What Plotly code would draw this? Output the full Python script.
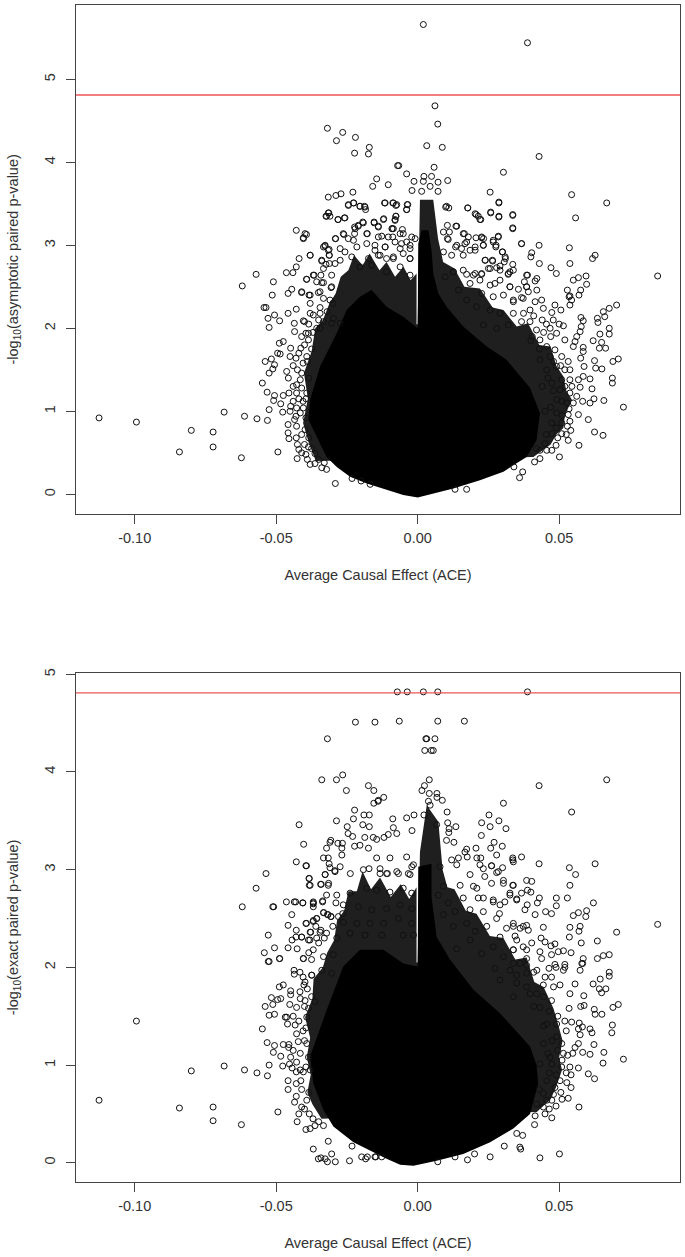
import plotly.graph_objects as go

THRESHOLD = 4.81
x_ticks = [-0.10, -0.05, 0.00, 0.05]
x_tick_labels = ["-0.10", "-0.05", "0.00", "0.05"]
top_y_ticks = [0, 1, 2, 3, 4, 5]
bottom_y_ticks = [0, 1, 2, 3, 4, 5]
y_tick_labels = ["0", "1", "2", "3", "4", "5"]
x_title = "Average Causal Effect (ACE)"
top_y_title = "-log<sub>10</sub>(asymptotic paired p-value)"
bottom_y_title = "-log<sub>10</sub>(exact paired p-value)"

# Outline of the solid black mass of overlapping points (ACE, -log10 p)
top_solid = [(0,-.04),(.0126,.07),(.022,.17),(.0303,.27),(.0338,.35),(.0385,.45),(.0420,.65),(.0432,.98),(.0397,1.28),(.0314,1.62),(.0244,1.78),(.0161,2.02),(.0102,2.26),(.0073,2.42),(.0055,2.66),(.0049,2.94),(.0038,3.18),(.0014,3.18),(.0002,3.02),(0,2.0),(-.0051,2.14),(-.0110,2.26),(-.0163,2.46),(-.0204,2.38),(-.0251,2.22),(-.0286,1.94),(-.0345,1.54),(-.0380,1.14),(-.0386,.90),(-.0357,.69),(-.0322,.45),(-.0286,.33),(-.0239,.21),(-.0180,.13),(-.0133,.08),(-.0110,.06),(-.0051,-.01)]
top_speckle = [(-.0360,.40),(-.0385,.62),(-.0405,.86),(-.0388,1.15),(-.0402,1.46),(-.0375,1.72),(-.0362,2.0),(-.0335,2.10),(-.0312,2.30),(-.0290,2.42),(-.0272,2.62),(-.0245,2.70),(-.0225,2.88),(-.0195,2.76),(-.0170,2.90),(-.0135,2.70),(-.0110,2.80),(-.0080,2.62),(-.0050,2.74),(-.0025,2.58),(-.0004,2.66),(-.0004,2.05),(0,2.05),(.0008,3.55),(.0055,3.55),(.0072,3.08),(.0090,2.80),(.0130,2.72),(.0165,2.50),(.022,2.48),(.0265,2.25),(.0303,2.22),(.0350,2.02),(.0390,2.06),(.0430,1.80),(.0470,1.78),(.0490,1.55),(.0515,1.42),(.0525,1.25),(.0545,1.14),(.0520,.95),(.0515,.80),(.0490,.72),(.0470,.60),(.0409,.45)]
bottom_solid = [(-.0015,-.03),(.0067,.02),(.0161,.09),(.0256,.21),(.0338,.35),(.0397,.50),(.0426,.81),(.0420,1.0),(.0397,1.19),(.0291,1.53),(.0197,1.77),(.0114,2.08),(.0067,2.31),(.0049,2.72),(.0049,3.06),(.0002,3.03),(0,2.01),(-.0051,2.04),(-.0121,2.18),(-.0204,2.18),(-.0263,2.01),(-.0322,1.56),(-.0380,1.09),(-.0369,.81),(-.0333,.54),(-.0298,.37),(-.0227,.21),(-.0145,.09),(-.0110,.04),(-.0062,-.02)]
bottom_speckle = [(-.0340,.45),(-.0372,.60),(-.0390,.72),(-.0378,.90),(-.0392,1.08),(-.0380,1.28),(-.0398,1.49),(-.0372,1.68),(-.0368,1.88),(-.0335,2.0),(-.0320,2.15),(-.0295,2.28),(-.0285,2.48),(-.0260,2.58),(-.0245,2.78),(-.0215,2.78),(-.0195,2.98),(-.0165,2.80),(-.0133,2.92),(-.0095,2.72),(-.0060,2.85),(-.0030,2.70),(-.0004,2.82),(-.0004,2.05),(0,2.05),(.0008,3.18),(.0032,3.66),(.0073,3.49),(.0088,3.0),(.0105,2.82),(.0130,2.80),(.0170,2.58),(.0208,2.55),(.0255,2.32),(.0303,2.30),(.0345,2.08),(.0385,2.10),(.0412,1.85),(.0445,1.80),(.0480,1.58),(.0498,1.40),(.0512,1.25),(.0500,1.08),(.0510,.95),(.0490,.78),(.0470,.65),(.0421,.52)]

# Individually legible points
top_points = [
(-.0319,4.41),(-.0265,4.36),(-.0287,4.26),(-.0220,4.30),(-.0171,4.18),(-.0174,4.10),(-.0223,4.11),(-.0145,3.80),(-.0159,3.71),(-.0229,3.64),(-.0271,3.62),(-.0289,3.60),(-.0316,3.58),(-.0226,3.51),(-.0245,3.48),(-.0204,3.47),(-.0188,3.47),(-.0184,3.43),(-.0314,3.39),(-.0324,3.35),(-.0310,3.35),(-.0282,3.31),(-.0259,3.33),(-.0194,3.28),(-.0154,3.28),(-.0139,3.22),(-.0210,3.24),(-.0223,3.22),(-.0429,3.18),(-.0393,3.13),(-.0404,3.09),(-.0291,3.08),(-.0261,3.13),(-.0223,3.14),(-.0178,3.14),(-.0328,2.99),(-.0333,2.98),(-.0313,2.95),(-.0313,2.88),(-.0380,2.88),(-.0419,2.84),(-.0339,2.81),(-.0429,2.74),(-.0441,2.67),(-.0464,2.67),(-.0324,2.77),(-.0292,2.78),(-.0571,2.65),(-.0510,2.56),(-.0620,2.51),(-.0514,2.40),(-.0458,2.42),(-.0445,2.47),(-.0410,2.43),(-.0393,2.59),(-.0366,2.64),(-.0342,2.64),(-.0357,2.56),(-.0333,2.55),(-.0306,2.49),(-.0384,2.40),(-.0351,2.43),
(.0020,5.66),(.0388,5.44),(.0061,4.68),(.0071,4.46),(.0032,4.20),(.0087,4.18),(.0429,4.07),(-.0067,3.96),(-.0071,3.96),(.0058,3.94),(.0303,3.88),(-.0039,3.86),(.0022,3.83),(.0049,3.83),(-.0013,3.77),(.0020,3.77),(.0072,3.76),(.0106,3.78),(-.0104,3.73),(-.0020,3.66),(.0072,3.65),(.0014,3.65),(.0044,3.71),(.0256,3.64),(.0544,3.61),(.0668,3.51),(.0287,3.52),(-.0117,3.51),(-.0088,3.51),(-.0077,3.48),(-.0035,3.49),(-.0039,3.43),(.0099,3.46),(.0110,3.45),(.0177,3.45),(.0207,3.37),(.0214,3.35),(.0223,3.31),(.0258,3.40),(.0287,3.34),(.0336,3.36),(.0558,3.33),(.0336,3.21),(-.0120,3.32),(-.0077,3.35),(-.0080,3.31),(-.0091,3.20),(-.0086,3.20),(-.0054,3.19),(.0105,3.24),(.0135,3.23),(.0112,3.16),(.0105,3.08),(.0165,3.14),(.0179,3.10),(.0206,3.09),(.0226,3.09),(.0233,3.08),(.0285,3.11),(.0267,3.06),(.0277,3.00),(.0367,3.02),(.0429,3.00),(.0536,2.97),(.0232,3.00),(.0203,2.98),(.0167,3.02),(.0155,2.96),(.0134,2.98),(.0185,2.94),(.0300,2.92),(.0403,2.91),(.0400,2.86),(.0310,2.84),(.0306,2.80),(.0336,2.77),(.0239,2.82),(.0265,2.81),(.0291,2.75),(.0279,2.73),(.0256,2.72),(.0627,2.88),(.0618,2.84),(.0538,2.78),(.0430,2.78),(.0471,2.73),(.0490,2.66),(.0326,2.68),(.0320,2.65),(.0595,2.63),(.0568,2.61),(.0550,2.58),(.0597,2.53),(.0848,2.63),(.0388,2.64),(.0421,2.60),(.0415,2.57),(.0377,2.56),(.0385,2.50),(.0226,2.66),(.0197,2.64),(.0173,2.65),(.0126,2.68),(.0421,2.46),(.0391,2.44),(.0367,2.37),(.0326,2.50),(.0273,2.54),(.0529,2.46),(.0576,2.46),(.0535,2.38),(.0570,2.40),
(-.0127,3.11),(-.0088,3.10),(-.0051,3.14),(-.0021,3.10),(-.0151,3.00),(-.0115,2.98),(-.0057,3.02),(-.0027,3.00),(-.0139,2.88),(-.0086,2.86),(-.0051,2.90),(-.0027,2.84),(-.0110,2.84),
(.0703,2.28),(.0677,2.24),(.0656,2.20),(.0661,2.14),(.0635,2.12),(.0637,2.07),(.0577,2.13),(.0585,2.09),(.0578,2.02),(.0574,1.96),(.0562,1.90),(.0677,2.00),(.0677,1.93),(.0644,1.93),(.0620,1.85),(.0650,1.83),(.0642,1.76),(.0664,1.76),(.0556,1.84),(.0550,1.78),(.0585,1.77),(.0585,1.72),(.0576,1.64),(.0588,1.54),(.0709,1.63),(.0690,1.60),(.0625,1.61),(.0629,1.52),(.0651,1.51),(.0609,1.39),(.0688,1.40),(.0688,1.34),(.0616,1.27),(.0623,1.15),(.0609,1.10),(.0658,1.13),(.0583,1.12),(.0727,1.05),(.0568,.96),(.0603,.90),(.0625,.75),(.0655,.71),(.0570,.59),(.0501,.45),(.0360,.20),(.0371,.27),(.0340,.33),(.0173,.06),(.0132,.06),(.0532,.65),(.0541,.77),(.0529,.82),(.0538,.88),(.0489,.59),(.0474,.53),(.0432,.43),(.0413,.39),(.0509,.73),(.0574,1.29),(.0568,1.38),(.0585,1.42),(.0538,1.50),(.0532,1.60),(.0520,1.86),(.0515,2.03),(.0479,2.10),(.0468,2.00),(.0491,1.94),(.0420,1.98),(.0506,2.22),(.0474,2.19),(.0485,2.28),(.0444,2.24),(.0415,2.32),(.0438,2.34),(.0397,2.08),(.0374,2.18),(.0338,2.32),(.0544,2.34),(.0538,2.28),(.0538,2.39),
(-.1126,.92),(-.0994,.87),(-.0800,.77),(-.0723,.75),(-.0723,.57),(-.0842,.51),(-.0684,.99),(-.0612,.94),(-.0568,.91),(-.0531,.89),(-.0623,.44),(-.0494,.51),(-.0426,.43),(-.0291,.13),(-.0525,1.02),(-.0484,1.09),(-.0477,.99),(-.0509,1.13),(-.0506,1.19),(-.0532,1.23),(-.0549,1.34),(-.0475,1.19),(-.0455,1.22),(-.0525,1.46),(-.0512,1.51),(-.0506,1.56),(-.0517,1.63),(-.0539,1.60),(-.0495,1.70),(-.0486,1.69),(-.0449,1.76),(-.0489,1.82),(-.0475,1.84),(-.0525,2.01),(-.0488,2.09),(-.0529,2.12),(-.0506,2.16),(-.0458,2.18),(-.0429,2.23),(-.0543,2.25),(-.0536,2.25),
(-.0436,2.06),(-.0435,1.96),(-.0404,2.09),(-.0451,1.66),(-.0430,1.64),(-.0463,1.48),(-.0457,1.40),(-.0428,1.32),(-.0428,1.22),(-.0449,1.06),(-.0451,1.00),(-.0428,1.04),(-.0430,.94),(-.0458,.84),(-.0458,.74),(-.0455,.67),(-.0429,.68),(-.0428,.82),(-.0420,.54),(-.0395,.48),(-.0380,.36),(-.0363,.37),(-.0339,.32),(-.0322,.30),(-.0232,.19),(-.0200,.16),(-.0168,.12),(-.0395,1.94),(-.0386,1.86),(-.0413,1.76),(-.0392,1.66),(-.0410,1.46),(-.0392,1.22),(-.0404,1.04),(-.0398,.78),(-.0386,.57),(-.0363,.49),(-.0380,2.18),(-.0345,2.18),(-.0333,2.08),(-.0304,2.06),(-.0357,2.00),
# dense band, left of the central spike
(-.0245,3.49),(-.0227,3.51),(-.0204,3.47),(-.0186,3.46),(-.0115,3.51),(-.0086,3.51),(-.0074,3.49),(-.0037,3.49),(-.0039,3.43),(-.0316,3.39),(-.0322,3.35),(-.0281,3.31),(-.0257,3.33),(-.0154,3.27),(-.0139,3.23),(-.0121,3.31),(-.0077,3.35),(-.0080,3.30),(-.0192,3.27),(-.0210,3.23),(-.0221,3.20),(-.0090,3.20),(-.0263,3.14),(-.0398,3.14),(-.0404,3.08),(-.0290,3.08),(-.0245,3.08),(-.0227,3.06),(-.0180,3.14),(-.0139,3.10),(-.0104,3.10),(-.0062,3.14),(-.0009,3.08),(-.0039,3.04),(-.0080,3.04),(-.0327,3.00),(-.0316,2.94),(-.0274,2.96),(-.0380,2.88),(-.0312,2.88),(-.0257,2.92),(-.0215,2.98),(-.0180,3.02),(-.0151,2.94),(-.0115,2.98),(-.0062,2.96),(-.0027,2.96),(-.0339,2.82),(-.0312,2.78),(-.0274,2.82),(-.0233,2.86),(-.0174,2.84),(-.0133,2.88),(-.0086,2.84),(-.0027,2.84),(-.0333,2.72),(-.0369,2.64),(-.0339,2.55),(-.0392,2.59),(-.0304,2.64),(-.0410,2.44),(-.0345,2.44),(-.0380,2.40),(-.0304,2.50),(-.0333,2.36),(-.0345,2.25),(-.0380,2.30),(-.0310,2.34),(-.0400,2.08),(-.0369,2.16),(-.0298,2.12),(-.0386,1.94),(-.0345,2.00),(-.0274,2.06),(-.0204,2.74),(-.0163,2.76),(-.0110,2.68),(-.0062,2.74),(-.0027,2.64),
# dense band, right of the central spike
(.0102,3.47),(.0177,3.45),(.0203,3.38),(.0220,3.31),(.0258,3.39),(.0287,3.51),(.0287,3.35),(.0336,3.37),(.0336,3.20),(.0367,3.02),(.0226,3.10),(.0161,3.14),(.0138,3.23),(.0108,3.07),(.0091,3.16),(.0285,3.10),(.0267,3.04),(.0276,2.98),(.0299,2.92),(.0232,3.00),(.0173,3.04),(.0138,3.00),(.0091,2.92),(.0120,2.88),(.0161,2.88),(.0203,2.94),(.0238,2.82),(.0264,2.82),(.0309,2.86),(.0338,2.70),(.0385,2.64),(.0250,2.72),(.0291,2.70),(.0320,2.66),(.0226,2.65),(.0203,2.66),(.0161,2.70),(.0126,2.68),(.0097,2.62),(.0185,2.54),(.0220,2.58),(.0256,2.52),(.0291,2.58),(.0326,2.50),(.0356,2.47),(.0385,2.50),(.0373,2.36),(.0397,2.22),(.0338,2.34),(.0303,2.40),(.0267,2.38),(.0226,2.42),(.0144,2.46),(.0173,2.34),(.0208,2.26),(.0256,2.22),(.0291,2.18),(.0338,2.18),(.0367,2.08),(.0320,2.04),(.0279,2.00),(.0232,2.04),
(.0432,1.86),(.0456,1.78),(.0485,1.74),(.0509,1.66),(.0468,1.66),(.0432,1.62),(.0491,1.54),(.0520,1.50),(.0456,1.50),(.0509,1.38),(.0538,1.38),(.0474,1.34),(.0503,1.26),(.0538,1.22),(.0562,1.18),(.0491,1.14),(.0527,1.10),(.0550,1.10),(.0491,.98),(.0532,.96),(.0474,.86),(.0509,.86),(.0474,.73),(.0450,.61),(.0456,.53),(.0432,.53),
# crowded flanks of the central mass
(-.0410,1.90),(-.0400,1.80),(-.0420,1.70),(-.0405,1.58),(-.0440,1.55),(-.0425,1.50),(-.0415,1.38),(-.0440,1.30),(-.0410,1.28),(-.0420,1.15),(-.0405,1.12),(-.0440,1.12),(-.0415,.98),(-.0395,.92),(-.0435,.90),(-.0410,.72),(-.0385,.68),(-.0425,.60),(-.0400,.60),(-.0375,.55),(-.0410,.50),(-.0350,.42),(-.0330,.38),(-.0390,.42),(-.0370,1.95),(-.0350,2.10),(-.0385,2.05),(-.0320,2.20),(-.0300,2.30),(-.0375,1.75),(-.0390,1.60),(-.0385,1.40),(-.0395,1.15),
(.0440,2.10),(.0455,2.05),(.0410,2.15),(.0445,1.95),(.0405,1.90),(.0470,1.90),(.0500,2.05),(.0430,1.75),(.0400,1.85),(.0480,1.60),(.0505,1.55),(.0460,1.40),(.0440,1.30),(.0520,1.30),(.0480,1.25),(.0545,1.30),(.0510,1.12),(.0470,1.05),(.0535,1.03),(.0450,1.00),(.0510,.95),(.0490,.80),(.0525,.72),(.0455,.72),(.0495,.68),(.0420,.55),
]
bottom_points = [
(-.0220,4.51),(-.0151,4.51),(-.0319,4.34),(-.0339,3.92),(-.0287,3.92),(-.0265,3.97),(-.0252,3.81),(-.0174,3.86),(-.0155,3.81),(-.0155,3.68),(-.0140,3.70),(-.0223,3.61),(-.0190,3.56),(-.0171,3.56),(-.0287,3.50),(-.0227,3.52),(-.0194,3.46),(-.0171,3.44),(-.0249,3.44),(-.0419,3.46),(-.0246,3.37),(-.0230,3.34),(-.0187,3.33),(-.0157,3.33),(-.0145,3.31),(-.0307,3.30),(-.0282,3.27),(-.0266,3.27),(-.0310,3.28),(-.0403,3.26),(-.0322,3.22),(-.0268,3.22),(-.0223,3.24),(-.0204,3.25),(-.0174,3.22),(-.0333,3.12),(-.0316,3.12),(-.0268,3.15),(-.0313,3.06),(-.0429,3.08),(-.0393,3.04),(-.0310,3.02),(-.0293,2.99),(-.0536,2.96),(-.0327,2.95),(-.0384,2.91),(-.0380,2.84),(-.0343,2.85),(-.0571,2.81),(-.0316,2.84),(-.0322,2.74),(-.0286,2.74),
(-.0620,2.62),(-.0512,2.62),(-.0509,2.62),(-.0464,2.67),(-.0436,2.67),(-.0431,2.67),(-.0406,2.66),(-.0369,2.67),(-.0369,2.65),(-.0369,2.62),(-.0336,2.68),(-.0445,2.54),(-.0332,2.56),(-.0317,2.54),(-.0306,2.52),(-.0357,2.50),(-.0369,2.47),(-.0393,2.45),(-.0458,2.43),(-.0429,2.38),(-.0528,2.33),(-.0410,2.31),(-.0430,2.31),(-.0444,2.28),(-.0378,2.36),(-.0342,2.38),(-.0322,2.35),(-.0542,2.15),(-.0506,2.20),(-.0458,2.20),(-.0426,2.19),(-.0525,2.06),(-.0488,2.09),(-.0404,2.09),(-.0369,2.18),(-.0381,2.28),
(-.0072,4.82),(-.0037,4.82),(.0020,4.82),(.0071,4.82),(.0388,4.82),(-.0065,4.52),(.0071,4.52),(.0165,4.52),(.0029,4.34),(.0032,4.34),(.0061,4.34),(.0025,4.22),(.0048,4.22),(.0055,4.22),(.0041,3.92),(.0024,3.86),(.0015,3.81),(.0668,3.92),(.0429,3.86),(.0041,3.78),(.0068,3.78),(.0068,3.74),(.0087,3.71),(.0038,3.70),(.0303,3.68),(-.0120,3.74),(-.0139,3.71),(.0044,3.66),
(.0104,3.59),(.0544,3.59),(.0252,3.56),(.0022,3.56),(-.0013,3.56),(-.0039,3.53),(.0287,3.50),(.0226,3.48),(.0256,3.44),(.0106,3.48),(.0135,3.44),(.0111,3.42),(.0110,3.38),(.0312,3.42),(.0225,3.35),(-.0088,3.52),(-.0086,3.43),(-.0020,3.40),(-.0074,3.37),(-.0104,3.36),(-.0119,3.33),(.0067,3.46),(.0102,3.30),(.0128,3.28),(.0270,3.28),(.0299,3.24),(.0258,3.22),(.0206,3.22),(.0173,3.21),(.0167,3.18),(.0279,3.15),(.0175,3.13),(.0209,3.12),(.0223,3.12),(.0144,3.12),(.0120,3.10),(.0367,3.13),(.0336,3.12),(.0336,3.10),
(.0429,3.06),(.0627,3.06),(.0536,3.02),(.0558,2.95),(.0300,3.02),(.0261,3.04),(.0232,3.01),(.0279,2.97),(.0185,2.95),(.0237,2.93),(.0303,2.89),(.0403,2.88),(.0336,2.84),(.0538,2.84),(.0388,2.79),(.0400,2.77),(.0209,2.81),(.0529,2.71),(.0430,2.71),(.0423,2.66),(.0490,2.71),(.0490,2.63),(.0621,2.66),(.0326,2.76),(.0350,2.70),(.0308,2.67),(.0267,2.67),(.0232,2.71),(.0387,2.64),(.0452,2.57),(.0473,2.55),(.0597,2.58),(.0568,2.56),(.0550,2.53),(.0594,2.52),(.0415,2.54),(.0379,2.59),(.0289,2.55),
(.0848,2.44),(.0703,2.36),(.0635,2.27),(.0538,2.41),(.0574,2.42),(.0570,2.37),(.0536,2.31),(.0578,2.25),(.0444,2.41),(.0391,2.38),(.0373,2.42),(.0338,2.42),(.0344,2.32),(.0436,2.30),(.0450,2.26),(.0471,2.22),(.0485,2.24),(.0403,2.25),(.0373,2.21),(.0432,2.16),(.0473,2.13),(.0497,2.16),(.0515,2.17),(.0542,2.15),(.0585,2.09),(.0635,2.09),(.0656,2.12),(.0677,2.13),(.0438,2.09),(.0338,2.18),(.0385,2.09),(.0485,2.03),(.0520,2.03),(.0580,2.04),
(-.0145,3.12),(-.0098,3.12),(-.0039,3.13),(-.0015,3.05),(-.0133,3.01),(-.0068,2.96),(-.0027,2.95),(-.0110,2.96),
(-.0994,1.45),(-.1126,.64),(-.0800,.94),(-.0842,.56),(-.0723,.57),(-.0723,.43),(-.0623,.39),(-.0684,.99),(-.0612,.95),(-.0568,.92),(-.0531,.89),(-.0525,1.00),(-.0494,.52),(-.0426,.42),(-.0395,.34),(-.0380,.35),(-.0369,.14),(-.0316,.22),(-.0351,.04),(-.0342,.05),(-.0327,.04),(-.0319,.01),(-.0304,.09),(-.0291,.01),(-.0241,.02),(-.0232,.17),(-.0198,.06),(-.0184,.04),(-.0178,.06),(-.0148,.06),
(-.0549,1.37),(-.0525,1.51),(-.0506,1.52),(-.0539,1.60),(-.0512,1.62),(-.0517,1.69),(-.0495,1.67),(-.0484,1.68),(-.0489,1.80),(-.0475,1.82),(-.0449,1.76),(-.0449,1.72),(-.0452,1.62),(-.0528,2.06),(-.0488,2.09),(-.0437,1.97),(-.0436,1.93),
(-.0532,1.23),(-.0506,1.20),(-.0510,1.13),(-.0484,1.09),(-.0475,1.21),(-.0455,1.21),(-.0456,1.18),(-.0477,.99),(-.0453,1.01),(-.0449,1.08),(-.0444,.97),(-.0428,1.03),(-.0429,.93),(-.0458,.84),(-.0458,.75),(-.0429,.81),(-.0429,.68),(-.0413,.84),(-.0410,.57),(-.0420,.50),(-.0463,1.49),(-.0468,1.49),(-.0460,1.42),(-.0433,1.41),(-.0428,1.32),(-.0422,1.24),(-.0392,1.22),(-.0386,1.08),(-.0404,.93),(-.0392,.64),(-.0383,.50),(-.0363,.38),(-.0333,.38),(-.0416,1.75),(-.0398,1.85),(-.0416,1.95),(-.0375,1.92),(-.0428,1.59),(-.0398,1.66),(-.0392,1.49),
(.0727,1.06),(.0655,1.02),(.0658,1.13),(.0623,1.21),(.0609,1.11),(.0583,1.13),(.0568,.97),(.0603,.91),(.0625,.86),(.0542,.90),(.0527,.82),(.0542,.77),(.0532,.66),(.0570,.57),(.0474,.46),(.0506,.72),(.0489,.58),(.0413,.39),(.0350,.30),(.0371,.28),(.0306,.17),(.0361,.16),(.0364,.14),(.0432,.05),(.0501,.09),(.0256,.06),(.0201,.09),(.0176,.03),(.0132,.06),(.0071,.01),(-.0151,.06),(-.0127,.06),
(.0686,1.33),(.0688,1.41),(.0709,1.62),(.0690,1.59),(.0651,1.52),(.0627,1.52),(.0624,1.57),(.0609,1.37),(.0616,1.33),(.0588,1.61),(.0576,1.60),(.0587,1.71),(.0556,1.83),(.0574,1.97),(.0583,2.04),(.0677,1.95),(.0677,1.91),(.0645,1.88),(.0620,1.83),(.0665,1.78),(.0650,1.74),(.0642,1.78),
(.0544,1.44),(.0571,1.43),(.0582,1.39),(.0568,1.37),(.0574,1.31),(.0568,1.22),(.0556,1.18),(.0548,1.12),(.0515,1.12),(.0538,.98),(.0535,1.58),(.0538,1.73),(.0520,2.00),(.0515,1.97),(.0489,2.00),(.0464,1.99),(.0473,1.90),(.0503,1.82),(.0421,1.97),(.0385,2.02),(.0338,2.04),(.0350,1.92),(.0444,1.82),(.0421,1.73),(.0385,1.80),(.0473,1.66),(.0491,1.42),(.0468,1.08),(.0485,.77),(.0456,.64),
# dense band around the central spike
(-.0395,3.04),(-.0383,2.91),(-.0383,2.84),(-.0327,2.95),(-.0341,2.85),(-.0292,2.98),(-.0274,3.03),(-.0315,2.86),(-.0238,2.96),(-.0192,3.00),(-.0172,3.01),(-.0133,2.96),(-.0107,2.96),(-.0074,2.98),(-.0033,2.96),(-.0021,3.03),(-.0406,2.66),(-.0336,2.67),(-.0289,2.66),(-.0369,2.66),(-.0395,2.45),(-.0333,2.56),(-.0319,2.54),(-.0307,2.52),(-.0369,2.48),(-.0357,2.50),(-.0280,2.52),(-.0263,2.64),(-.0239,2.76),(-.0180,2.81),(-.0145,2.79),(-.0098,2.77),(-.0051,2.81),(-.0021,2.76),(-.0209,2.62),(-.0163,2.59),(-.0110,2.60),(-.0062,2.64),(-.0021,2.60),(-.0263,2.46),(-.0215,2.45),(-.0168,2.45),(-.0121,2.45),(-.0068,2.50),(-.0021,2.45),(-.0410,2.31),(-.0380,2.36),(-.0345,2.36),(-.0286,2.30),(-.0239,2.35),(-.0186,2.33),(-.0127,2.33),(-.0051,2.33),(-.0015,2.33),(-.0386,2.28),(-.0357,2.30),(-.0404,2.09),(-.0333,2.11),(-.0298,2.13),(-.0374,1.92),(-.0402,1.82),(-.0339,1.97),(-.0304,1.94),(-.0363,1.65),(-.0386,1.58),
(.0079,3.03),(.0138,3.05),(.0220,3.05),(.0261,3.04),(.0285,2.98),(.0338,3.08),(.0385,2.89),(.0303,2.86),(.0338,2.84),(.0367,2.76),(.0261,2.86),(.0197,2.83),(.0150,2.84),(.0091,2.83),(.0073,2.74),(.0108,2.66),(.0161,2.71),(.0214,2.71),(.0267,2.69),(.0326,2.74),(.0350,2.69),(.0291,2.64),(.0232,2.57),(.0185,2.59),(.0132,2.57),(.0091,2.54),(.0279,2.50),(.0338,2.45),(.0385,2.43),(.0362,2.40),(.0314,2.40),(.0244,2.42),(.0173,2.45),(.0126,2.42),(.0203,2.37),(.0291,2.31),(.0350,2.28),(.0385,2.18),(.0338,2.18),(.0267,2.21),(.0185,2.28),(.0138,2.19),(.0226,2.14),(.0303,2.11),(.0362,2.04),(.0326,1.97),(.0273,1.99),(.0385,1.94),(.0350,1.84),(.0291,1.87),(.0397,1.73),(.0338,1.70),
(.0432,1.59),(.0456,1.42),(.0491,1.29),(.0444,1.22),(.0509,1.22),(.0474,1.01),(.0509,.98),(.0432,1.01),(.0456,.84),(.0503,.84),(.0444,.71),(.0474,.64),(.0421,.60),(.0444,.57),
# crowded flanks of the central mass
(-.0405,1.90),(-.0390,1.78),(-.0415,1.68),(-.0400,1.60),(-.0440,1.50),(-.0420,1.45),(-.0405,1.35),(-.0440,1.15),(-.0415,1.12),(-.0400,1.25),(-.0395,.98),(-.0415,.95),(-.0410,.75),(-.0385,.72),(-.0435,.62),(-.0400,.55),(-.0370,.45),(-.0350,.42),(-.0375,2.08),(-.0350,2.25),(-.0385,2.15),(-.0330,2.30),(-.0300,2.42),(-.0265,2.55),(-.0360,2.42),(-.0395,1.38),(-.0375,1.70),(-.0380,.95),
(.0410,1.95),(.0450,1.90),(.0480,1.80),(.0445,1.70),(.0410,1.60),(.0495,1.50),(.0465,1.55),(.0520,1.45),(.0445,1.40),(.0475,1.25),(.0525,1.35),(.0530,1.10),(.0495,1.15),(.0460,1.12),(.0510,1.05),(.0490,.90),(.0525,.92),(.0465,.92),(.0480,.70),(.0510,.65),(.0450,.50),(.0465,.55),(.0430,.75),(.0415,.48),
]

W, H = 685, 1257
fig = go.Figure()

def polygon(pts, color, xa, ya):
    xs, ys = zip(*pts)
    fig.add_trace(go.Scatter(x=xs, y=ys, xaxis=xa, yaxis=ya, mode="lines", fill="toself",
                             fillcolor=color, line=dict(width=0), hoverinfo="skip", showlegend=False))

def panel(points, solid, speckle, xa, ya, line_w):
    polygon(speckle, "rgba(0,0,0,0.88)", xa, ya)
    polygon(solid, "black", xa, ya)
    xs, ys = zip(*points)
    fig.add_trace(go.Scatter(x=xs, y=ys, xaxis=xa, yaxis=ya, mode="markers", showlegend=False,
                             marker=dict(symbol="circle-open", size=6, color="#111", line=dict(width=1))))
    fig.add_trace(go.Scatter(x=[-1, 1], y=[THRESHOLD, THRESHOLD], xaxis=xa, yaxis=ya, mode="lines",
                             showlegend=False, line=dict(color="#ee5555", width=line_w)))

panel(top_points, top_solid, top_speckle, "x", "y", 1.6)
panel(bottom_points, bottom_solid, bottom_speckle, "x2", "y2", 1.2)

font = dict(family="Liberation Sans, Arial, sans-serif", size=14.5, color="#333")
def xaxis(anchor):
    return dict(domain=[76 / W, 680 / W], range=[-0.12075, 0.0927], anchor=anchor, tickmode="array",
                tickvals=x_ticks, ticktext=x_tick_labels, ticks="outside", ticklen=9, tickcolor="#444",
                tickfont=font, showline=True, mirror=True, linecolor="#444", linewidth=1, showgrid=False,
                zeroline=False, automargin=False, ticklabelstandoff=2,
                title=dict(text=x_title, font=font, standoff=24))
def yaxis(anchor, rng, top_px, bot_px, vals, title):
    return dict(domain=[1 - bot_px / H, 1 - top_px / H], range=rng, anchor=anchor, tickmode="array",
                tickvals=vals, ticktext=y_tick_labels, ticks="outside", ticklen=9, tickcolor="#444",
                tickangle=-90, tickfont=font, showline=True, mirror=True, linecolor="#444", linewidth=1,
                showgrid=False, zeroline=False, automargin=False, ticklabelstandoff=5,
                title=dict(text=title, font=font, standoff=20))

fig.update_layout(
    width=W, height=H, margin=dict(l=0, r=0, t=0, b=0, autoexpand=False), showlegend=False,
    paper_bgcolor="white", plot_bgcolor="white",
    xaxis=xaxis("y"),
    yaxis=yaxis("x", [-0.234, 5.895], 5, 513.7, top_y_ticks, top_y_title),
    xaxis2=xaxis("y2"),
    yaxis2=yaxis("x2", [-0.194, 5.01], 673.3, 1181.7, bottom_y_ticks, bottom_y_title),
)
fig.write_html("out.html", config=dict(displayModeBar=False),
               post_script="document.body.style.margin='0';document.documentElement.style.overflow='hidden';")
